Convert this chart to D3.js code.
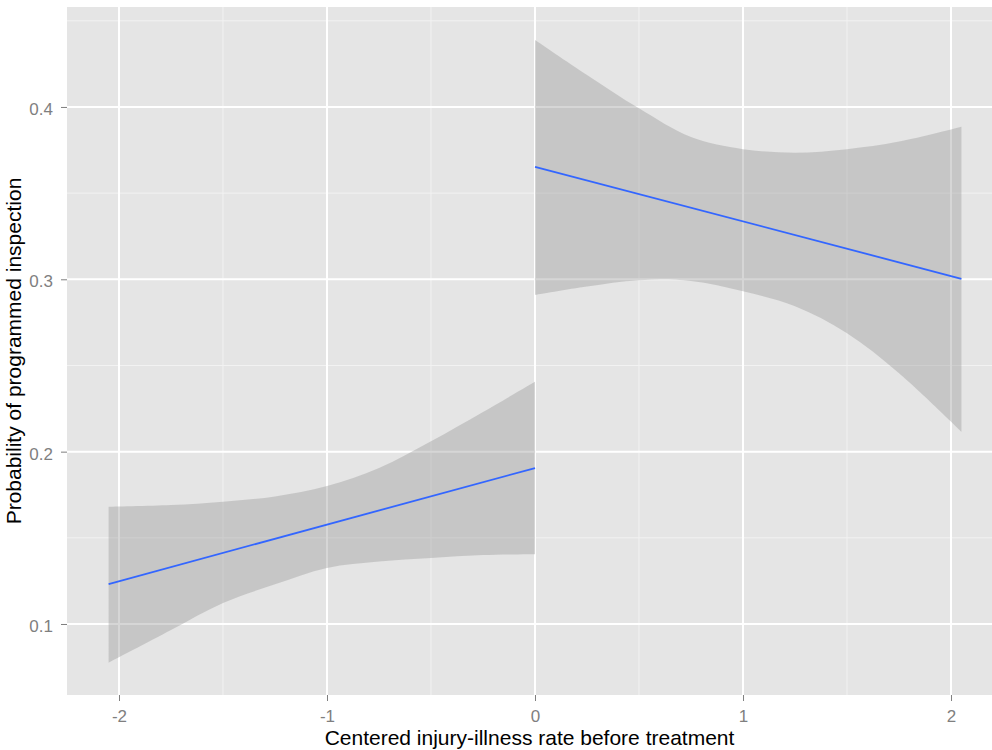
<!DOCTYPE html>
<html>
<head>
<meta charset="utf-8">
<script src="https://cdn.jsdelivr.net/npm/d3@7"></script>
<style>
  body { margin: 0; background: #fff; }
  svg { display: block; font-family: "Liberation Sans", Arial, sans-serif; }
</style>
</head>
<body>
<div id="chart"></div>
<script>
// tramo izquierdo (antes del corte) y derecho (despues del corte)
var leftX  = [-2.05, -1.75, -1.5, -1.25, -1.0, -0.75, -0.5, -0.25, 0];
var leftLo = [0.0775, 0.0965, 0.1122, 0.1230, 0.1325, 0.1362, 0.1383, 0.1400, 0.1405];
var leftHi = [0.168, 0.169, 0.171, 0.174, 0.180, 0.1905, 0.206, 0.223, 0.2405];
var leftFitX = [-2.05, 0];
var leftFit  = [0.1232, 0.1905];

var rightX  = [0, 0.25, 0.5, 0.75, 1.0, 1.25, 1.5, 1.75, 2.05];
var rightLo = [0.2909, 0.2958, 0.2995, 0.2990, 0.2930, 0.2843, 0.2687, 0.2455, 0.2116];
var rightHi = [0.4389, 0.4186, 0.3992, 0.3825, 0.3755, 0.3735, 0.3755, 0.3799, 0.3885];
var rightFitX = [0, 2.05];
var rightFit  = [0.3653, 0.3003];

var xTicks = [-2, -1, 0, 1, 2];
var xMinor = [-1.5, -0.5, 0.5, 1.5];
var yTicks = [0.1, 0.2, 0.3, 0.4];
var yMinor = [0.15, 0.25, 0.35, 0.45];

var xTitle = "Centered injury-illness rate before treatment";
var yTitle = "Probability of programmed inspection";

var width = 992, height = 750;
var panel = {left: 67, top: 7, right: 992, bottom: 695};

var svg = d3.select("#chart").append("svg")
	.attr("width", width)
	.attr("height", height);

var x = d3.scaleLinear().domain([-2.25, 2.197]).range([panel.left, panel.right]);
var y = d3.scaleLinear().domain([0.0588, 0.458]).range([panel.bottom, panel.top]);

// fondo del panel
svg.append("rect")
	.attr("x", panel.left).attr("y", panel.top)
	.attr("width", panel.right - panel.left)
	.attr("height", panel.bottom - panel.top)
	.attr("fill", "#E5E5E5");

var grid = svg.append("g");

grid.selectAll("line.minor-x").data(xMinor).enter().append("line")
	.attr("x1", x).attr("x2", x)
	.attr("y1", panel.top).attr("y2", panel.bottom)
	.attr("stroke", "#F2F2F2").attr("stroke-width", 1);

grid.selectAll("line.minor-y").data(yMinor).enter().append("line")
	.attr("y1", y).attr("y2", y)
	.attr("x1", panel.left).attr("x2", panel.right)
	.attr("stroke", "#F2F2F2").attr("stroke-width", 1);

grid.selectAll("line.major-x").data(xTicks).enter().append("line")
	.attr("x1", x).attr("x2", x)
	.attr("y1", panel.top).attr("y2", panel.bottom)
	.attr("stroke", "#FFFFFF").attr("stroke-width", 2);

grid.selectAll("line.major-y").data(yTicks).enter().append("line")
	.attr("y1", y).attr("y2", y)
	.attr("x1", panel.left).attr("x2", panel.right)
	.attr("stroke", "#FFFFFF").attr("stroke-width", 2);

// bandas de confianza
var area = d3.area()
	.x(function(d) { return x(d.x); })
	.y0(function(d) { return y(d.lo); })
	.y1(function(d) { return y(d.hi); })
	.curve(d3.curveCatmullRom.alpha(0.5));

var line = d3.line()
	.x(function(d) { return x(d.x); })
	.y(function(d) { return y(d.y); });

function drawSegment(xs, lo, hi, fx, fy) {
	var band = xs.map(function(v, i) { return {x: v, lo: lo[i], hi: hi[i]}; });
	var fit = fx.map(function(v, i) { return {x: v, y: fy[i]}; });
	svg.append("path")
		.datum(band)
		.attr("d", area)
		.attr("fill", "#999999")
		.attr("fill-opacity", 0.4);
	svg.append("path")
		.datum(fit)
		.attr("d", line)
		.attr("fill", "none")
		.attr("stroke", "#3366FF")
		.attr("stroke-width", 1.8);
}

drawSegment(leftX, leftLo, leftHi, leftFitX, leftFit);
drawSegment(rightX, rightLo, rightHi, rightFitX, rightFit);

// ejes
var xAxis = svg.append("g")
	.attr("transform", "translate(0," + panel.bottom + ")")
	.call(d3.axisBottom(x).tickValues(xTicks).tickFormat(function(d) { return String(d); })
		.tickSize(6).tickSizeOuter(0).tickPadding(9));

var yAxis = svg.append("g")
	.attr("transform", "translate(" + panel.left + ",0)")
	.call(d3.axisLeft(y).tickValues(yTicks).tickFormat(d3.format(".1f"))
		.tickSize(6).tickSizeOuter(0).tickPadding(8));

[xAxis, yAxis].forEach(function(a) {
	a.select(".domain").remove();
	a.selectAll(".tick line").attr("stroke", "#7F7F7F");
	a.selectAll(".tick text")
		.attr("fill", "#7F7F7F")
		.attr("font-size", "17px")
		.attr("font-family", "Liberation Sans, Arial, sans-serif");
});
yAxis.selectAll(".tick text").attr("dy", "0.45em");

svg.append("text")
	.attr("x", (panel.left + panel.right) / 2)
	.attr("y", 745)
	.attr("text-anchor", "middle")
	.attr("font-size", "21px")
	.attr("fill", "#000")
	.text(xTitle);

svg.append("text")
	.attr("transform", "translate(21," + ((panel.top + panel.bottom) / 2) + ") rotate(-90)")
	.attr("text-anchor", "middle")
	.attr("font-size", "21px")
	.attr("fill", "#000")
	.text(yTitle);
</script>
</body>
</html>
